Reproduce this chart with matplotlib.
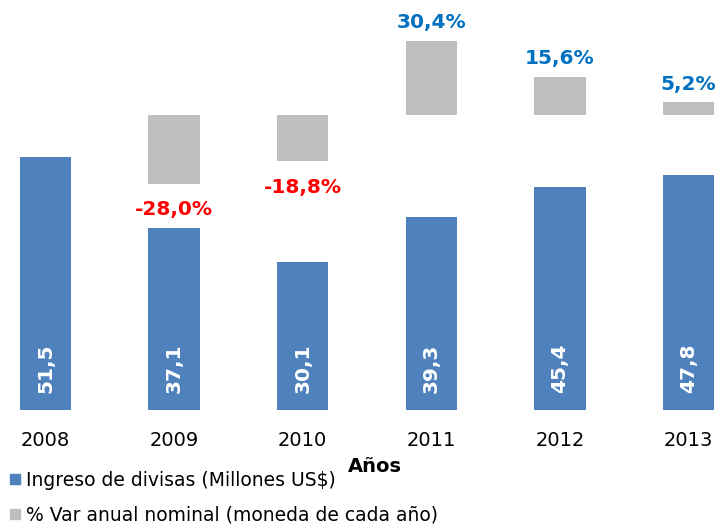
import matplotlib
matplotlib.use("Agg")
import matplotlib.pyplot as plt
from matplotlib.lines import Line2D
import numpy as np

years = ["2008", "2009", "2010", "2011", "2012", "2013"]
ingreso = [51.5, 37.1, 30.1, 39.3, 45.4, 47.8]
var_pct = [None, -28.0, -18.8, 30.4, 15.6, 5.2]

blue = "#4F81BD"
gray = "#BFBFBF"

W, H = 717, 529
fig = plt.figure(figsize=(W / 100, H / 100), dpi=100)
ax = fig.add_axes([0, 119 / H, 1, 410 / H])
ax2 = ax.twinx()

x = np.arange(len(years))
ax.bar(x, ingreso, width=0.4, color=blue, zorder=2)
for xi, v in zip(x, ingreso):
    ax.annotate(f"{v:.1f}".replace(".", ","), (xi, 0), xytext=(0, 30),
                textcoords="offset points", rotation=90, ha="center", va="center",
                color="white", fontsize=14.5, fontweight="bold")

px = [i for i, v in enumerate(var_pct) if v is not None]
pv = [var_pct[i] for i in px]
ax2.bar(px, pv, width=0.4, color=gray, zorder=2)
for xi, v in zip(px, pv):
    txt = f"{v:.1f}".replace(".", ",") + "%"
    if v < 0:
        ax2.annotate(txt, (xi, v), xytext=(0, -19), textcoords="offset points",
                     ha="center", va="center", color="#FF0000",
                     fontsize=14.5, fontweight="bold")
    else:
        ax2.annotate(txt, (xi, v), xytext=(0, 13), textcoords="offset points",
                     ha="center", va="center", color="#0070C0",
                     fontsize=14.5, fontweight="bold")

xl = (-45.5 / 128.6, 5 + (W - 688.5) / 128.6)
ax.set_xlim(*xl)
ax.set_ylim(0, 410 / 4.91)
ax2.set_ylim(-295 / 2.45, 115 / 2.45)

for a in (ax, ax2):
    for s in a.spines.values():
        s.set_visible(False)
    a.set_yticks([])
ax.set_xticks(x)
ax.set_xticklabels(years, fontsize=14)
ax.tick_params(axis="x", length=0, pad=15)

fig.text(375 / W, 1 - 466 / H, "Años", ha="center", va="center",
         fontsize=14, fontweight="bold")

handles = [Line2D([], [], marker="s", linestyle="", color=blue, markersize=7),
           Line2D([], [], marker="s", linestyle="", color=gray, markersize=7)]
labels = ["Ingreso de divisas (Millones US$)", "% Var anual nominal (moneda de cada año)"]
fig.legend(handles, labels, loc="lower left", bbox_to_anchor=(0.0, -0.01),
           frameon=False, fontsize=13.5, handlelength=0.6, handletextpad=0.3,
           borderaxespad=0.1, labelspacing=0.85)

fig.savefig("out.png", dpi=100)
